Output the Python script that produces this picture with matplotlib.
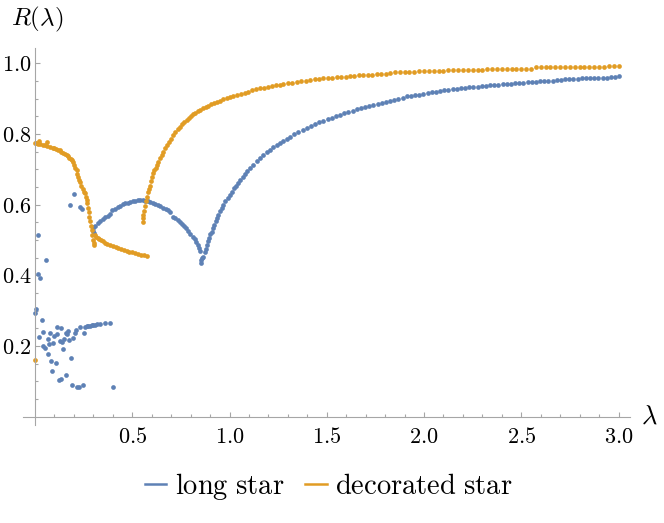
import numpy as np
import matplotlib
matplotlib.use("Agg")
import matplotlib.pyplot as plt
from matplotlib.lines import Line2D

plt.rcParams["mathtext.fontset"] = "cm"

BLUE = "#5e81b5"
ORANGE = "#e19c24"

# long star: (lambda, R)
long_star = [
    # scattered points near lambda = 0
    (0.000, 0.295), (0.005, 0.305), (0.014, 0.513), (0.014, 0.404), (0.026, 0.392),
    (0.057, 0.444), (0.034, 0.274), (0.022, 0.227), (0.043, 0.239), (0.040, 0.199),
    (0.051, 0.194), (0.065, 0.221), (0.065, 0.178), (0.077, 0.237), (0.074, 0.206),
    (0.082, 0.159), (0.091, 0.210), (0.099, 0.230), (0.089, 0.130), (0.108, 0.152),
    (0.115, 0.254), (0.111, 0.234), (0.122, 0.103), (0.129, 0.215), (0.134, 0.251),
    (0.137, 0.211), (0.146, 0.192), (0.134, 0.108), (0.151, 0.220), (0.158, 0.238),
    (0.163, 0.234), (0.171, 0.243), (0.158, 0.119), (0.176, 0.216), (0.184, 0.167),
    (0.189, 0.090), (0.197, 0.224), (0.206, 0.237), (0.211, 0.246), (0.218, 0.084),
    (0.228, 0.084), (0.231, 0.254), (0.245, 0.090), (0.252, 0.237), (0.257, 0.254),
    (0.266, 0.257), (0.274, 0.258), (0.283, 0.257), (0.291, 0.259), (0.300, 0.260),
    (0.308, 0.260), (0.317, 0.262), (0.334, 0.262), (0.360, 0.264), (0.386, 0.264),
    (0.403, 0.084), (0.180, 0.600), (0.200, 0.630), (0.231, 0.593), (0.240, 0.587),
    (0.297, 0.537), (0.300, 0.525), (0.305, 0.520),
    # hump
    (0.300, 0.533), (0.310, 0.540), (0.322, 0.547), (0.334, 0.555), (0.347, 0.560),
    (0.360, 0.565), (0.373, 0.569), (0.386, 0.574), (0.398, 0.584), (0.411, 0.589),
    (0.424, 0.593), (0.437, 0.597), (0.450, 0.601), (0.463, 0.604), (0.476, 0.606),
    (0.489, 0.608), (0.502, 0.610), (0.515, 0.611), (0.528, 0.612), (0.541, 0.612),
    (0.554, 0.612), (0.567, 0.611), (0.580, 0.610), (0.593, 0.607), (0.606, 0.604),
    (0.619, 0.601), (0.632, 0.598), (0.645, 0.595), (0.658, 0.591), (0.671, 0.588),
    (0.684, 0.584), (0.694, 0.580),
    (0.711, 0.566), (0.722, 0.561), (0.733, 0.556), (0.744, 0.551), (0.755, 0.546),
    (0.766, 0.540), (0.777, 0.533), (0.788, 0.525), (0.799, 0.517), (0.810, 0.510),
    (0.820, 0.502), (0.830, 0.494), (0.838, 0.486), (0.844, 0.478), (0.850, 0.470),
    (0.853, 0.443), (0.855, 0.434), (0.859, 0.448),
    # rising branch
    (0.866, 0.453), (0.872, 0.465), (0.878, 0.476), (0.883, 0.486), (0.890, 0.497),
    (0.896, 0.507), (0.902, 0.516), (0.908, 0.524), (0.915, 0.534), (0.921, 0.543),
    (0.928, 0.553), (0.934, 0.562), (0.942, 0.571), (0.951, 0.581), (0.959, 0.590),
    (0.968, 0.599), (0.979, 0.609), (0.990, 0.619), (1.000, 0.628), (1.011, 0.637),
    (1.022, 0.646), (1.033, 0.654), (1.044, 0.662), (1.054, 0.670), (1.067, 0.679),
    (1.080, 0.687), (1.092, 0.695), (1.105, 0.703), (1.122, 0.713), (1.140, 0.723),
    (1.157, 0.732), (1.174, 0.741), (1.191, 0.748), (1.208, 0.755), (1.226, 0.762),
    (1.243, 0.769), (1.260, 0.775), (1.277, 0.781), (1.294, 0.787), (1.311, 0.792),
    (1.333, 0.799), (1.354, 0.806), (1.376, 0.812), (1.397, 0.818), (1.418, 0.823),
    (1.440, 0.828), (1.461, 0.833), (1.482, 0.838), (1.504, 0.842), (1.525, 0.846),
    (1.547, 0.850), (1.568, 0.854), (1.590, 0.858), (1.611, 0.862), (1.633, 0.866),
    (1.654, 0.870), (1.675, 0.873), (1.697, 0.876), (1.718, 0.879), (1.739, 0.882),
    (1.761, 0.885), (1.782, 0.888), (1.804, 0.891), (1.825, 0.893), (1.847, 0.897),
    (1.868, 0.900), (1.890, 0.903), (1.911, 0.906), (1.932, 0.908), (1.954, 0.910),
    (1.975, 0.911), (1.997, 0.913), (2.018, 0.915), (2.040, 0.918), (2.061, 0.920),
    (2.082, 0.922), (2.104, 0.923), (2.125, 0.924), (2.147, 0.926), (2.168, 0.927),
    (2.190, 0.929), (2.211, 0.930), (2.233, 0.932), (2.254, 0.933), (2.276, 0.934),
    (2.297, 0.935), (2.318, 0.936), (2.339, 0.937), (2.361, 0.938), (2.382, 0.939),
    (2.404, 0.940), (2.425, 0.941), (2.447, 0.942), (2.468, 0.943), (2.490, 0.944),
    (2.511, 0.945), (2.532, 0.946), (2.554, 0.947), (2.575, 0.948), (2.596, 0.949),
    (2.618, 0.950), (2.639, 0.951), (2.661, 0.951), (2.682, 0.952), (2.704, 0.953),
    (2.725, 0.954), (2.747, 0.954), (2.768, 0.955), (2.790, 0.956), (2.811, 0.957),
    (2.832, 0.957), (2.853, 0.958), (2.875, 0.958), (2.896, 0.959), (2.918, 0.959),
    (2.939, 0.959), (2.960, 0.960), (2.980, 0.961), (3.000, 0.963),
]

# decorated star
decorated_star = [
    (0.000, 0.161),
    # upper-left falling branch
    (0.000, 0.775), (0.006, 0.774), (0.013, 0.772), (0.022, 0.781), (0.027, 0.771),
    (0.040, 0.770), (0.050, 0.768), (0.060, 0.776), (0.064, 0.766), (0.077, 0.764),
    (0.090, 0.761), (0.100, 0.759), (0.110, 0.758), (0.120, 0.756), (0.128, 0.755),
    (0.135, 0.750), (0.143, 0.747), (0.155, 0.744), (0.163, 0.741), (0.170, 0.737),
    (0.176, 0.733), (0.183, 0.730), (0.189, 0.727), (0.195, 0.720), (0.201, 0.712),
    (0.207, 0.705), (0.214, 0.698), (0.218, 0.688), (0.222, 0.678), (0.227, 0.670),
    (0.231, 0.665), (0.238, 0.654), (0.245, 0.643), (0.251, 0.637), (0.257, 0.632),
    (0.261, 0.622), (0.265, 0.613), (0.269, 0.604), (0.272, 0.592), (0.276, 0.579),
    (0.279, 0.566), (0.283, 0.554), (0.287, 0.541), (0.291, 0.529), (0.295, 0.515),
    (0.300, 0.500), (0.303, 0.493), (0.305, 0.487),
    # lower branch
    (0.308, 0.515), (0.315, 0.510), (0.322, 0.506), (0.330, 0.503), (0.340, 0.499),
    (0.350, 0.496), (0.360, 0.493), (0.372, 0.490), (0.386, 0.486), (0.400, 0.483),
    (0.414, 0.480), (0.428, 0.477), (0.442, 0.475), (0.457, 0.472), (0.471, 0.470),
    (0.485, 0.467), (0.500, 0.465), (0.514, 0.463), (0.530, 0.461), (0.545, 0.459),
    (0.560, 0.457), (0.574, 0.455),
    # rising branch
    (0.554, 0.550), (0.555, 0.561), (0.557, 0.571), (0.560, 0.583), (0.564, 0.597),
    (0.569, 0.610), (0.574, 0.623), (0.580, 0.635), (0.586, 0.645), (0.591, 0.654),
    (0.597, 0.667), (0.603, 0.679), (0.608, 0.689), (0.614, 0.697), (0.620, 0.705),
    (0.626, 0.712), (0.634, 0.722), (0.642, 0.731), (0.651, 0.741), (0.660, 0.750),
    (0.670, 0.760), (0.680, 0.769), (0.690, 0.778), (0.700, 0.787), (0.711, 0.797),
    (0.722, 0.805), (0.734, 0.813), (0.745, 0.820), (0.757, 0.827), (0.768, 0.834),
    (0.780, 0.840), (0.791, 0.845), (0.802, 0.850), (0.814, 0.855), (0.825, 0.860),
    (0.837, 0.864), (0.848, 0.868), (0.862, 0.872), (0.877, 0.876), (0.891, 0.880),
    (0.905, 0.884), (0.920, 0.888), (0.934, 0.891), (0.951, 0.894), (0.968, 0.898),
    (0.985, 0.901), (1.003, 0.904), (1.020, 0.907), (1.037, 0.910), (1.057, 0.913),
    (1.077, 0.917), (1.097, 0.920), (1.117, 0.923), (1.137, 0.926), (1.157, 0.929),
    (1.177, 0.931), (1.197, 0.933), (1.217, 0.935), (1.237, 0.937), (1.257, 0.939),
    (1.277, 0.941), (1.300, 0.943), (1.323, 0.945), (1.346, 0.947), (1.368, 0.949),
    (1.391, 0.951), (1.414, 0.953), (1.437, 0.954), (1.460, 0.955), (1.483, 0.957),
    (1.505, 0.958), (1.528, 0.959), (1.551, 0.960), (1.574, 0.961), (1.597, 0.962),
    (1.620, 0.963), (1.642, 0.964), (1.665, 0.966), (1.688, 0.967), (1.711, 0.967),
    (1.734, 0.968), (1.757, 0.969), (1.779, 0.970), (1.802, 0.970), (1.825, 0.971),
    (1.850, 0.975), (1.875, 0.975), (1.900, 0.975), (1.925, 0.975), (1.950, 0.975),
    (1.975, 0.978), (2.000, 0.978), (2.025, 0.978), (2.050, 0.978), (2.075, 0.978),
    (2.100, 0.978), (2.125, 0.981), (2.150, 0.981), (2.175, 0.981), (2.200, 0.981),
    (2.225, 0.981), (2.250, 0.981), (2.275, 0.981), (2.300, 0.981), (2.325, 0.984),
    (2.350, 0.984), (2.375, 0.984), (2.400, 0.984), (2.425, 0.984), (2.450, 0.984),
    (2.475, 0.984), (2.500, 0.984), (2.525, 0.984), (2.550, 0.984), (2.575, 0.988),
    (2.600, 0.988), (2.625, 0.988), (2.650, 0.988), (2.675, 0.988), (2.700, 0.988),
    (2.725, 0.988), (2.750, 0.988), (2.775, 0.988), (2.800, 0.988), (2.825, 0.988),
    (2.850, 0.988), (2.875, 0.988), (2.900, 0.988), (2.925, 0.988), (2.950, 0.991),
    (2.975, 0.991), (3.000, 0.991),
]

x_major = [0.5, 1.0, 1.5, 2.0, 2.5, 3.0]
y_major = [0.2, 0.4, 0.6, 0.8, 1.0]
series_names = ["long star", "decorated star"]

long_arr = np.array(long_star)
deco_arr = np.array(decorated_star)

fig = plt.figure(figsize=(6.64, 5.23), dpi=100)
ax = fig.add_axes([0.0346, 0.1874, 0.9142, 0.7208])

ax.plot(long_arr[:, 0], long_arr[:, 1], "o", ms=3.4, mew=0, color=BLUE)
ax.plot(deco_arr[:, 0], deco_arr[:, 1], "o", ms=3.4, mew=0, color=ORANGE)

ax.set_xlim(-0.062, 3.059)
ax.set_ylim(-0.023, 1.043)

axis_grey = "#a6a6a6"
for side in ["top", "right"]:
    ax.spines[side].set_visible(False)
for side in ["left", "bottom"]:
    ax.spines[side].set_position(("data", 0))
    ax.spines[side].set_color(axis_grey)
    ax.spines[side].set_linewidth(0.8)

x_minor = [round(0.1 * i, 1) for i in range(1, 31) if i % 5 != 0]
y_minor = [round(0.05 * i, 2) for i in range(1, 21) if i % 4 != 0]
ax.set_xticks(x_major, labels=[r"$%.1f$" % v for v in x_major])
ax.set_yticks(y_major, labels=[r"$%.1f$" % v for v in y_major])
ax.set_xticks(x_minor, minor=True)
ax.set_yticks(y_minor, minor=True)
ax.tick_params(which="both", direction="in", color=axis_grey, width=0.8)
ax.tick_params(which="major", length=3.4)
ax.tick_params(which="minor", length=2.0)
ax.tick_params(axis="x", which="major", labelsize=16, pad=7)
ax.tick_params(axis="y", which="major", labelsize=16, pad=2.5)

fig.text(0.016, 0.962, r"$R(\lambda)$", fontsize=18, va="center", ha="left")
fig.text(0.966, 0.203, r"$\lambda$", fontsize=19, va="center", ha="left")

handles = [Line2D([], [], color=BLUE, lw=1.8), Line2D([], [], color=ORANGE, lw=1.8)]
labels = [r"$\mathrm{%s}$" % n.replace(" ", r"\ ") for n in series_names]
fig.legend(handles, labels, loc="center", bbox_to_anchor=(0.495, 0.069), ncol=2,
           frameon=False, fontsize=20.5, handlelength=0.75, handletextpad=0.3,
           columnspacing=0.75)

fig.savefig("out.png", dpi=100)
